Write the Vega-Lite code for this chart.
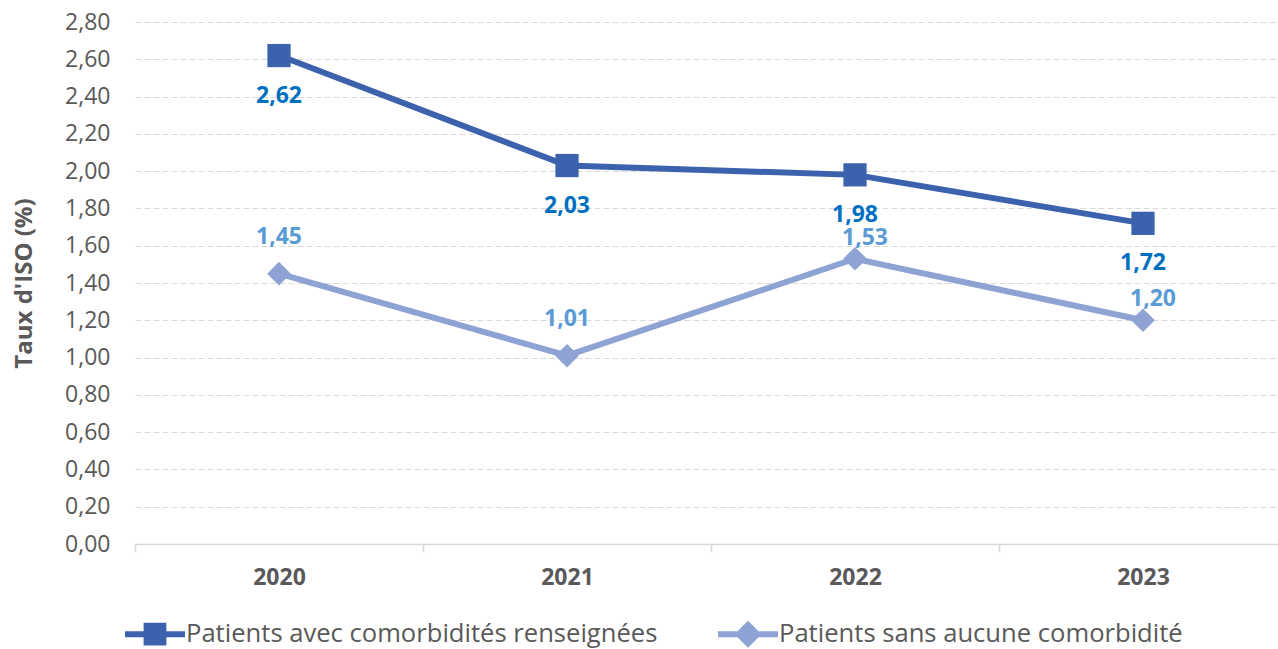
{
  "$schema": "https://vega.github.io/schema/vega-lite/v6.json",
  "width": 1143,
  "height": 522,
  "autosize": {"type": "none"},
  "padding": {"left": 135, "top": 22, "right": 0, "bottom": 105},
  "background": "white",
  "config": {
    "locale": {"number": {"decimal": ",", "thousands": "\u00a0", "grouping": [3], "currency": ["", " €"]}},
    "font": "Open Sans",
    "view": {"stroke": null}
  },
  "data": {
    "values": [
      {"annee": "2020", "serie": "Patients avec comorbidités renseignées", "taux": 2.62},
      {"annee": "2021", "serie": "Patients avec comorbidités renseignées", "taux": 2.03},
      {"annee": "2022", "serie": "Patients avec comorbidités renseignées", "taux": 1.98},
      {"annee": "2023", "serie": "Patients avec comorbidités renseignées", "taux": 1.72},
      {"annee": "2020", "serie": "Patients sans aucune comorbidité", "taux": 1.45},
      {"annee": "2021", "serie": "Patients sans aucune comorbidité", "taux": 1.01},
      {"annee": "2022", "serie": "Patients sans aucune comorbidité", "taux": 1.53},
      {"annee": "2023", "serie": "Patients sans aucune comorbidité", "taux": 1.20}
    ]
  },
  "encoding": {
    "x": {
      "field": "annee", "type": "nominal", "bandPosition": 0.5,
      "scale": {"type": "band", "range": [0, 1152], "paddingInner": 0, "paddingOuter": 0},
      "axis": {
        "title": null, "labelAngle": 0, "labelFontWeight": "bold", "labelFontSize": 23,
        "labelColor": "#595959", "labelPadding": 14, "domainColor": "#D9D9D9", "domainWidth": 1.5,
        "tickColor": "#D9D9D9", "tickWidth": 1.5, "tickSize": 8, "tickBand": "extent", "grid": false
      }
    },
    "y": {
      "field": "taux", "type": "quantitative",
      "scale": {"domain": [0, 2.8], "nice": false, "zero": true},
      "axis": {
        "title": "Taux d'ISO (%)", "titleFontSize": 24, "titleFontWeight": "bold", "titleColor": "#595959",
        "titlePadding": 28,
        "values": [0, 0.2, 0.4, 0.6, 0.8, 1.0, 1.2, 1.4, 1.6, 1.8, 2.0, 2.2, 2.4, 2.6, 2.8],
        "format": ".2f", "labelFontSize": 23, "labelColor": "#595959", "labelPadding": 25,
        "domain": false, "ticks": false, "grid": true, "gridColor": "#D9D9D9", "gridWidth": 1.2,
        "gridDash": [6, 3]
      }
    },
    "color": {
      "field": "serie", "type": "nominal",
      "scale": {"domain": ["Patients avec comorbidités renseignées", "Patients sans aucune comorbidité"], "range": ["#3D62AD", "#8FA2D4"]},
      "legend": {
        "title": null, "orient": "none", "direction": "horizontal", "legendX": -10, "legendY": 582,
        "labelFontSize": 25.6, "labelColor": "#595959", "labelOffset": 1, "columnPadding": 60,
        "symbolSize": 3600, "padding": 0, "labelLimit": 800,
        "encode": {
          "symbols": {
            "update": {
              "stroke": {"value": "transparent"},
              "strokeWidth": {"value": 0},
              "opacity": {"value": 1},
              "fillOpacity": {"value": 1}
            }
          }
        }
      }
    }
  },
  "layer": [
    {
      "mark": {"type": "line", "strokeWidth": 6}
    },
    {
      "mark": {"type": "point", "filled": true, "opacity": 0, "size": 1},
      "encoding": {
        "shape": {
          "field": "serie", "type": "nominal", "legend": null,
          "scale": {
            "domain": ["Patients avec comorbidités renseignées", "Patients sans aucune comorbidité"],
            "range": ["M-1,-0.1H1V0.1H-1Z M-0.38,-0.38H0.38V0.38H-0.38Z", "M-1,-0.1H1V0.1H-1Z M0,-0.45L0.45,0L0,0.45L-0.45,0Z"]
          }
        }
      }
    },
    {
      "transform": [{"filter": "datum.serie === 'Patients avec comorbidités renseignées'"}],
      "mark": {"type": "point", "filled": true, "opacity": 1, "size": 540, "shape": "square"},
      "encoding": {"color": {"value": "#3D62AD"}}
    },
    {
      "transform": [{"filter": "datum.serie === 'Patients sans aucune comorbidité'"}],
      "mark": {"type": "point", "filled": true, "opacity": 1, "size": 560, "shape": "diamond"},
      "encoding": {"color": {"value": "#8FA2D4"}}
    },
    {
      "transform": [{"filter": "datum.serie === 'Patients avec comorbidités renseignées'"}],
      "mark": {"type": "text", "fontWeight": "bold", "fontSize": 23, "dy": 40, "baseline": "middle"},
      "encoding": {"text": {"field": "taux", "type": "quantitative", "format": ".2f"}, "color": {"value": "#0070C0"}}
    },
    {
      "transform": [{"filter": "datum.serie === 'Patients sans aucune comorbidité' && (datum.annee === '2020' || datum.annee === '2021')"}],
      "mark": {"type": "text", "fontWeight": "bold", "fontSize": 23, "dy": -37, "baseline": "middle"},
      "encoding": {"text": {"field": "taux", "type": "quantitative", "format": ".2f"}, "color": {"value": "#5B9BD5"}}
    },
    {
      "transform": [{"filter": "datum.serie === 'Patients sans aucune comorbidité' && (datum.annee === '2022' || datum.annee === '2023')"}],
      "mark": {"type": "text", "fontWeight": "bold", "fontSize": 23, "dy": -21, "dx": 10, "baseline": "middle"},
      "encoding": {"text": {"field": "taux", "type": "quantitative", "format": ".2f"}, "color": {"value": "#5B9BD5"}}
    }
  ]
}
